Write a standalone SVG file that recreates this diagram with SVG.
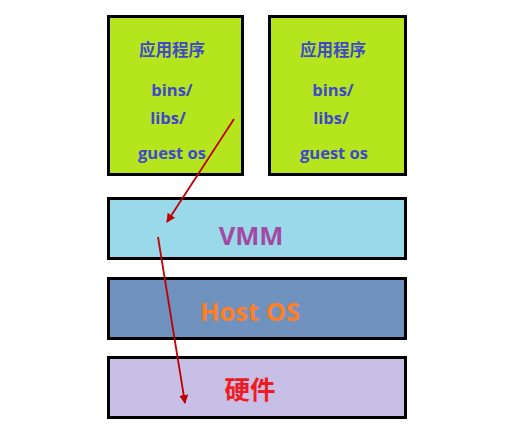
<svg xmlns="http://www.w3.org/2000/svg" width="519" height="432" viewBox="0 0 519 432">
<defs>
<style>
.box{stroke:#000;stroke-width:3}
.g{fill:#b5e61d}
.t{font-family:"Open Sans","Noto Sans CJK SC",sans-serif;font-weight:bold;fill:#3f48cc;font-size:16.5px;text-anchor:middle}
.big{font-family:"Open Sans","Noto Sans CJK SC",sans-serif;font-weight:bold;font-size:25.5px;text-anchor:middle}
.c{stroke:#c00000;stroke-width:1.8;fill:none;marker-end:url(#ah)}
</style>
<marker id="ah" viewBox="0 0 10 10" refX="9" refY="5" markerWidth="9" markerHeight="9" orient="auto" markerUnits="userSpaceOnUse">
<path d="M0,0 L10,5 L0,10 z" fill="#c00000"/>
</marker>
</defs>
<rect width="519" height="432" fill="#fff"/>
<g id="vm1">
<rect class="box g" x="108.5" y="16.5" width="134" height="158"/>
<text class="t" x="172" y="56">应用程序</text>
<text class="t" x="172" y="96">bins/</text>
<text class="t" x="168" y="124">libs/</text>
<text class="t" x="172" y="159">guest os</text>
</g>
<g id="vm2">
<rect class="box g" x="269.5" y="16.5" width="136" height="158"/>
<text class="t" x="333" y="56">应用程序</text>
<text class="t" x="333" y="96">bins/</text>
<text class="t" x="331" y="124">libs/</text>
<text class="t" x="334" y="159">guest os</text>
</g>
<g id="vmm">
<rect class="box" x="108.5" y="198.5" width="297" height="60" fill="#99d9ea"/>
<text class="big" x="251" y="245" fill="#a349a4">VMM</text>
</g>
<g id="hostos">
<rect class="box" x="108.5" y="278.5" width="297" height="60" fill="#7092be"/>
<text class="big" x="250" y="321" fill="#ff7f27">Host OS</text>
</g>
<g id="hw">
<rect class="box" x="108.5" y="357.5" width="297" height="60" fill="#c8bfe7"/>
<text class="big" x="250" y="399" fill="#ed1c24">硬件</text>
</g>
<g id="connectors">
<line class="c" x1="234" y1="119" x2="167" y2="222"/>
<line class="c" x1="158" y1="237" x2="185" y2="403"/>
</g>
</svg>
